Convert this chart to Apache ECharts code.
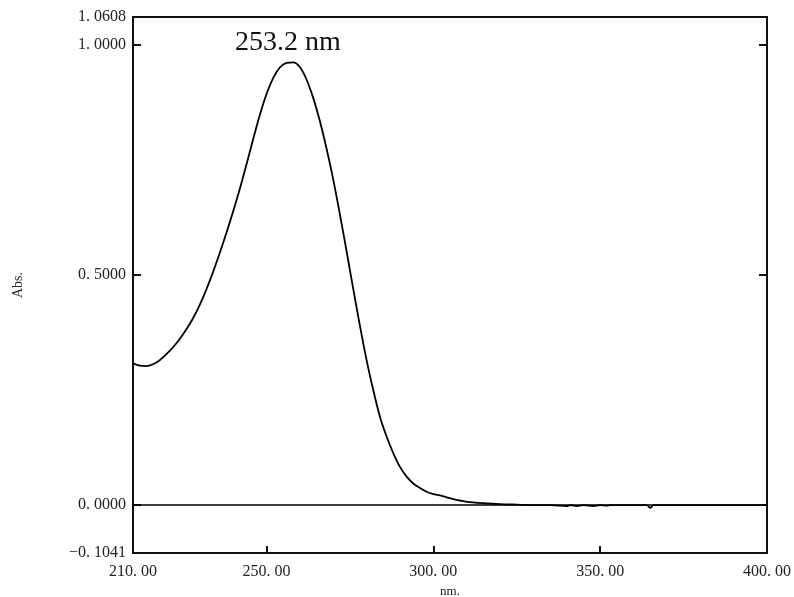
<!DOCTYPE html>
<html>
<head>
<meta charset="utf-8">
<script src="https://cdn.jsdelivr.net/npm/echarts@6/dist/echarts.min.js"></script>
<style>html,body{margin:0;padding:0;background:#fff;overflow:hidden}#c{width:794px;height:597px}</style>
</head>
<body>
<div id="c"></div>
<script>
var wavelengths = [210,212,214,216,218,220,222,224,226,228,230,232,234,236,238,240,242,244,246,248,250,252,254,256,258,260,262,264,266,268,270,272,274,276,278,280,282,284,286,288,290,292,294,296,298,300,302,304,306,308,310,315,320,325,330,335,340,341,343,345,348,350,352,353,355,360,364,365,366,370,380,390,400];
var absorbance = [0.308,0.303,0.302,0.306,0.315,0.328,0.343,0.361,0.382,0.406,0.435,0.469,0.507,0.548,0.592,0.638,0.687,0.740,0.795,0.848,0.893,0.928,0.951,0.961,0.962,0.952,0.925,0.885,0.835,0.775,0.708,0.632,0.552,0.470,0.390,0.315,0.250,0.192,0.149,0.113,0.083,0.062,0.047,0.037,0.029,0.024,0.021,0.017,0.013,0.010,0.007,0.004,0.002,0.001,0.000,0.000,-0.002,0.000,-0.002,0.000,-0.002,0.000,-0.001,0.000,0.000,0.000,0.000,-0.006,0.000,0.000,0.000,0.000,0.000];
var xLabelValues = [210,250,300,350,400];
var xTickValues = [250,300,350];
var yLabelValues = [-0.1041,0,0.5,1,1.0608];
var yTickValues = [0,0.5,1];
var peakLabel = '253.2 nm';
var xName = 'nm.';
var yName = 'Abs.';

var FONT = 'Liberation Serif';
var INK = '#111';
function fmt(v, d){ var s = Math.abs(v).toFixed(d).replace('.', '. '); return (v < 0 ? '\u2212' : '') + s; }

var chart = echarts.init(document.getElementById('c'), null, {width:794, height:597});
var pts = wavelengths.map(function(w,i){ return [w, absorbance[i]]; });
chart.setOption({
  animation: false,
  grid: {left:133, width:634, top:17, height:536, containLabel:false, outerBoundsMode:'none'},
  xAxis: [{
    type:'value', min:210, max:400, position:'bottom',
    name:xName, nameLocation:'middle', nameGap:30,
    nameTextStyle:{fontFamily:FONT, fontSize:13, color:'#222'},
    axisLine:{show:true, onZero:false, lineStyle:{color:INK, width:2}},
    axisTick:{show:true, inside:true, length:7, customValues:xTickValues, lineStyle:{color:INK, width:2}},
    axisLabel:{show:true, customValues:xLabelValues, margin:11, fontFamily:FONT, fontSize:16, color:'#222',
      formatter:function(v){return fmt(v,2);}},
    splitLine:{show:false}
  },{
    type:'value', min:210, max:400, position:'top',
    axisLine:{show:true, onZero:false, lineStyle:{color:INK, width:2}},
    axisTick:{show:false}, axisLabel:{show:false}, splitLine:{show:false}
  }],
  yAxis: [{
    type:'value', min:-0.1041, max:1.0608, position:'left',
    name:yName, nameLocation:'middle', nameGap:108, nameRotate:90,
    nameTextStyle:{fontFamily:FONT, fontSize:14, color:'#222'},
    axisLine:{show:true, onZero:false, lineStyle:{color:INK, width:2}},
    axisTick:{show:true, inside:true, length:8, customValues:yTickValues, lineStyle:{color:INK, width:2}},
    axisLabel:{show:true, customValues:yLabelValues, margin:7, fontFamily:FONT, fontSize:16, color:'#222',
      formatter:function(v){return fmt(v,4);}},
    splitLine:{show:false}
  },{
    type:'value', min:-0.1041, max:1.0608, position:'right',
    axisLine:{show:true, onZero:false, lineStyle:{color:INK, width:2}},
    axisTick:{show:true, inside:true, length:8, customValues:yTickValues, lineStyle:{color:INK, width:2}},
    axisLabel:{show:false}, splitLine:{show:false}
  }],
  graphic: [{
    type:'text', left:235, top:29,
    style:{text:peakLabel, fontFamily:FONT, fontSize:28, fill:'#111'}
  }],
  series: [{
    type:'line', data:pts, xAxisIndex:0, yAxisIndex:0,
    showSymbol:false, smooth:0.3,
    lineStyle:{color:'#000', width:1.8},
    markLine:{
      silent:true, symbol:['none','none'], label:{show:false},
      lineStyle:{color:'#000', width:1.5, type:'solid'},
      data:[{yAxis:0}]
    }
  }]
});
</script>
</body>
</html>
